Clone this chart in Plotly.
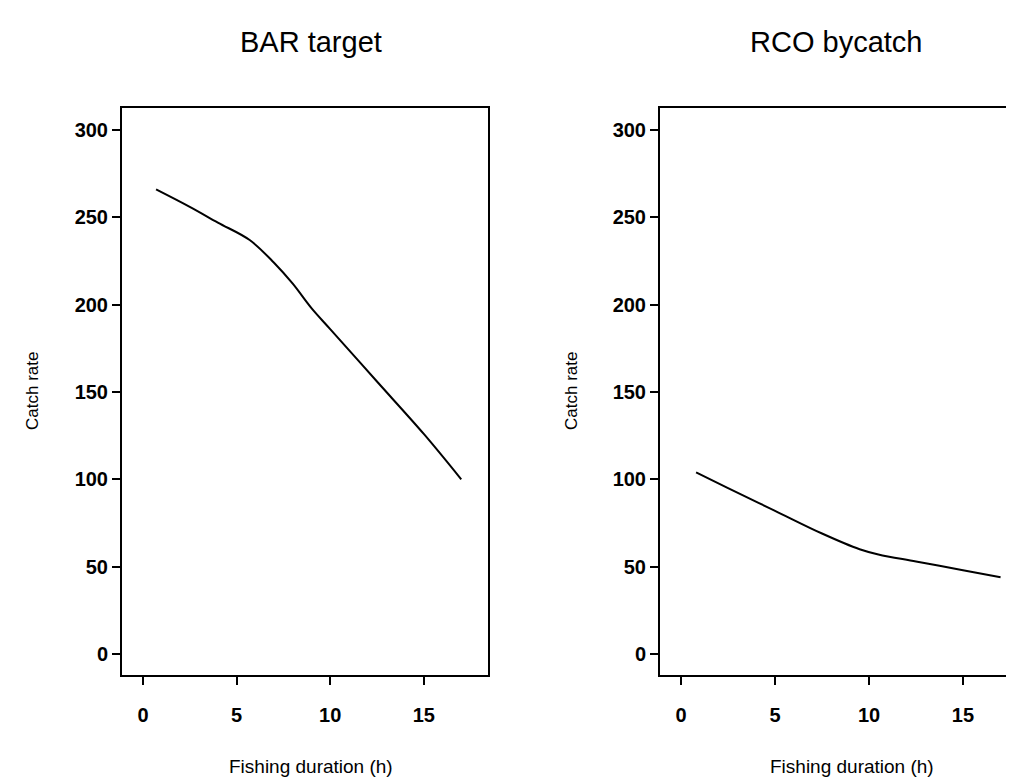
import plotly.graph_objects as go
from plotly.subplots import make_subplots

# fishing duration (h) and fitted catch rate
bar_hours = [0.7, 2.5, 4.0, 5.7, 7.0, 8.0, 9.0, 10.0, 12.5, 15.0, 17.0]
bar_rate = [266, 256, 247, 237, 224, 212, 198, 186, 156, 126, 100]

rco_hours = [0.8, 2.5, 5.0, 7.5, 9.5, 10.5, 12.5, 15.0, 17.0]
rco_rate = [104, 95, 82, 69, 60, 57, 53, 48, 44]

titles = ["BAR target", "RCO bycatch"]
y_ticks = [0, 50, 100, 150, 200, 250, 300]
x_ticks = [0, 5, 10, 15]

W, H = 1014, 781
FAM = "Liberation Sans, Arial"
tick_font = dict(family=FAM, size=20, color="black", weight="bold")

fig = make_subplots(rows=1, cols=2)
fig.add_trace(go.Scatter(x=bar_hours, y=bar_rate, mode="lines",
                         line=dict(color="black", width=2, shape="spline")), 1, 1)
fig.add_trace(go.Scatter(x=rco_hours, y=rco_rate, mode="lines",
                         line=dict(color="black", width=2, shape="spline")), 1, 2)

ydom = [1 - 667 / H, 1 - 100 / H]
axis_common = dict(showgrid=False, zeroline=False, showline=True, linecolor="black",
                   linewidth=2, ticks="outside", ticklen=8, tickwidth=2,
                   tickcolor="black", tickfont=tick_font)

fig.update_xaxes(axis_common, tickvals=x_ticks, ticklabelstandoff=13, mirror=True)
fig.update_yaxes(axis_common, tickvals=y_ticks, range=[-12, 312.6], domain=ydom)
fig.update_xaxes(domain=[114 / W, 480 / W], range=[-1.12, 18.43], row=1, col=1)
fig.update_xaxes(domain=[652 / W, 1.0], range=[-1.12, 18.14], row=1, col=2)
fig.update_yaxes(mirror=True, row=1, col=1)
fig.update_yaxes(mirror=False, row=1, col=2)

ann = []
for cx, t in [(303, titles[0]), (828, titles[1])]:
    ann.append(dict(x=cx / W, y=1 - 34 / H, xref="paper", yref="paper", text=t,
                    xanchor="center", yanchor="middle", showarrow=False,
                    font=dict(family=FAM, size=29, color="black")))
for cx in [303, 844]:
    ann.append(dict(x=cx / W, y=1 - 758 / H, xref="paper", yref="paper",
                    text="Fishing duration (h)", xanchor="center", yanchor="middle",
                    showarrow=False, font=dict(family=FAM, size=19, color="black")))
for cx in [25, 564]:
    ann.append(dict(x=cx / W, y=1 - 383 / H, xref="paper", yref="paper",
                    text="Catch rate", showarrow=False, textangle=-90,
                    xanchor="center", yanchor="middle",
                    font=dict(family=FAM, size=17, color="black")))

fig.update_layout(width=W, height=H, margin=dict(l=0, r=0, t=0, b=0),
                  paper_bgcolor="white", plot_bgcolor="white", showlegend=False,
                  annotations=ann)

fig.write_html("out.html")
